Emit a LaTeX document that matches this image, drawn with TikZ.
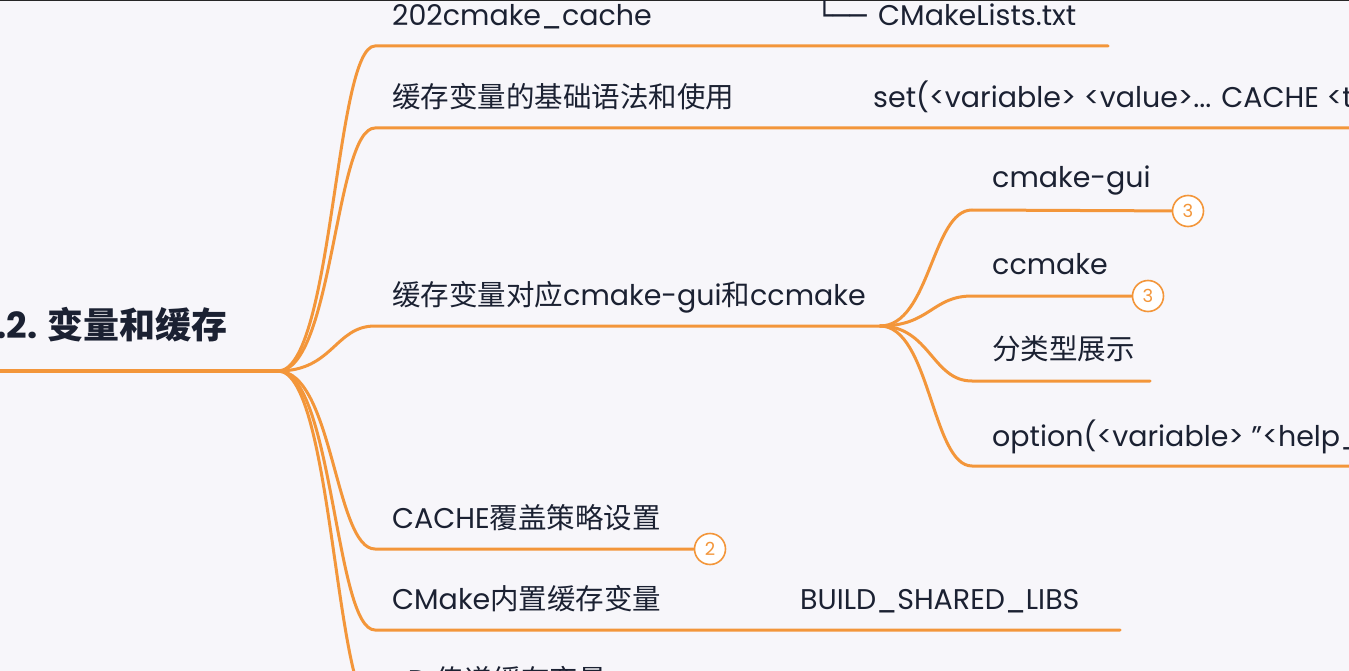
\documentclass[tikz,border=0pt]{standalone}
\usepackage{fontspec}
\setmainfont{Poppins}
\newfontfamily\cjk{Noto Sans CJK SC}
\newfontfamily\boxfont{DejaVu Sans Mono}
\usepackage{tikz}
\usetikzlibrary{positioning}
\usepackage{xcolor}

\definecolor{mapline}{RGB}{243,150,58}
\definecolor{maptext}{RGB}{27,33,50}
\definecolor{mapbg}{RGB}{247,246,250}

\tikzset{
  branch/.style={draw=mapline, line width=3pt, line cap=round},
  topic/.style={anchor=base west, inner sep=0pt, text=maptext, font=\fontsize{28.5}{32}\selectfont},
  count/.style={circle, draw=mapline, line width=1.6pt, fill=white, text=mapline,
    minimum size=31pt, inner sep=0pt, font=\fontsize{18}{20}\selectfont},
}

\begin{document}
\begin{tikzpicture}[x=1pt, y=-1pt]
    \useasboundingbox (0,0) rectangle (1349,671);
    \fill[mapbg] (0,0) rectangle (1349,671);
    \clip (0,0) rectangle (1349,671);
    \draw[black!85, line width=1.5pt] (0,0) -- (1349,0);

    % root topic
    \node [topic, anchor=base east, font=\fontsize{36}{40}\selectfont\bfseries] (root) at (228,338) {.2. {\cjk 变量和缓存}};
    \coordinate (rootend) at (0,371);
    \coordinate (fork) at (278,371);
    \draw [branch, line width=4pt, line cap=butt] (rootend) -- (fork);

    % main topics
    \node [topic] (cache) at (392,26) {202cmake\_cache};
    \node [topic, font=\fontsize{28}{32}\boxfont] (tree) at (816,26) {└──};
    \node [topic] (lists) at (878,26) {CMakeLists.txt};
    \node [topic] (syntax) at (392,108) {{\cjk 缓存变量的基础语法和使用}};
    \node [topic] (setcmd) at (873,108) {set(<variable> <value>... CACHE <type> <docstring> [FORCE])};
    \node [topic] (cachevar) at (392,305) {{\cjk 缓存变量对应}cmake-gui{\cjk 和}ccmake};
    \node [topic] (force) at (392,528) {CACHE{\cjk 覆盖策略设置}};
    \node [topic] (builtin) at (392,609) {CMake{\cjk 内置缓存变量}};
    \node [topic] (shared) at (800,609) {BUILD\_SHARED\_LIBS};
    \node [topic] (define) at (392,690) {-D {\cjk 传递缓存变量}};

    % sub topics
    \node [topic] (gui) at (992,188) {cmake-gui};
    \node [topic] (ccm) at (992,274) {ccmake};
    \node [topic] (kinds) at (992,359) {{\cjk 分类型展示}};
    \node [topic] (option) at (992,446) {option(<variable> "<help\_text>" [value])};

    % counters
    \node [count] (n1) at (1188,211) {3};
    \node [count] (n2) at (1148,296) {3};
    \node [count] (n3) at (710,549) {2};

    % branch line ends
    \coordinate (b1) at (375,46);   \coordinate (b1e) at (1108,46);
    \coordinate (b2) at (375,128);  \coordinate (b2e) at (1360,128);
    \coordinate (b3) at (375,326);  \coordinate (subfork) at (880,326);
    \coordinate (b4) at (375,549);
    \coordinate (b5) at (375,630);  \coordinate (b5e) at (1120,630);
    \coordinate (b6) at (375,711);  \coordinate (b6e) at (900,711);
    \coordinate (s1) at (972,210);
    \coordinate (s2) at (972,296);
    \coordinate (s3) at (972,381);  \coordinate (s3e) at (1150,381);
    \coordinate (s4) at (972,466);  \coordinate (s4e) at (1360,466);

    \foreach \s/\e in {b1/b1e, b2/b2e, b3/subfork, b4/n3, b5/b5e, b6/b6e}
      \draw [branch] (fork) .. controls +(55,0) and +(-40,0) .. (\s) -- (\e);
    \foreach \s/\e in {s1/n1, s2/n2, s3/s3e, s4/s4e}
      \draw [branch] (subfork) .. controls +(50,0) and +(-40,0) .. (\s) -- (\e);
\end{tikzpicture}
\end{document}
